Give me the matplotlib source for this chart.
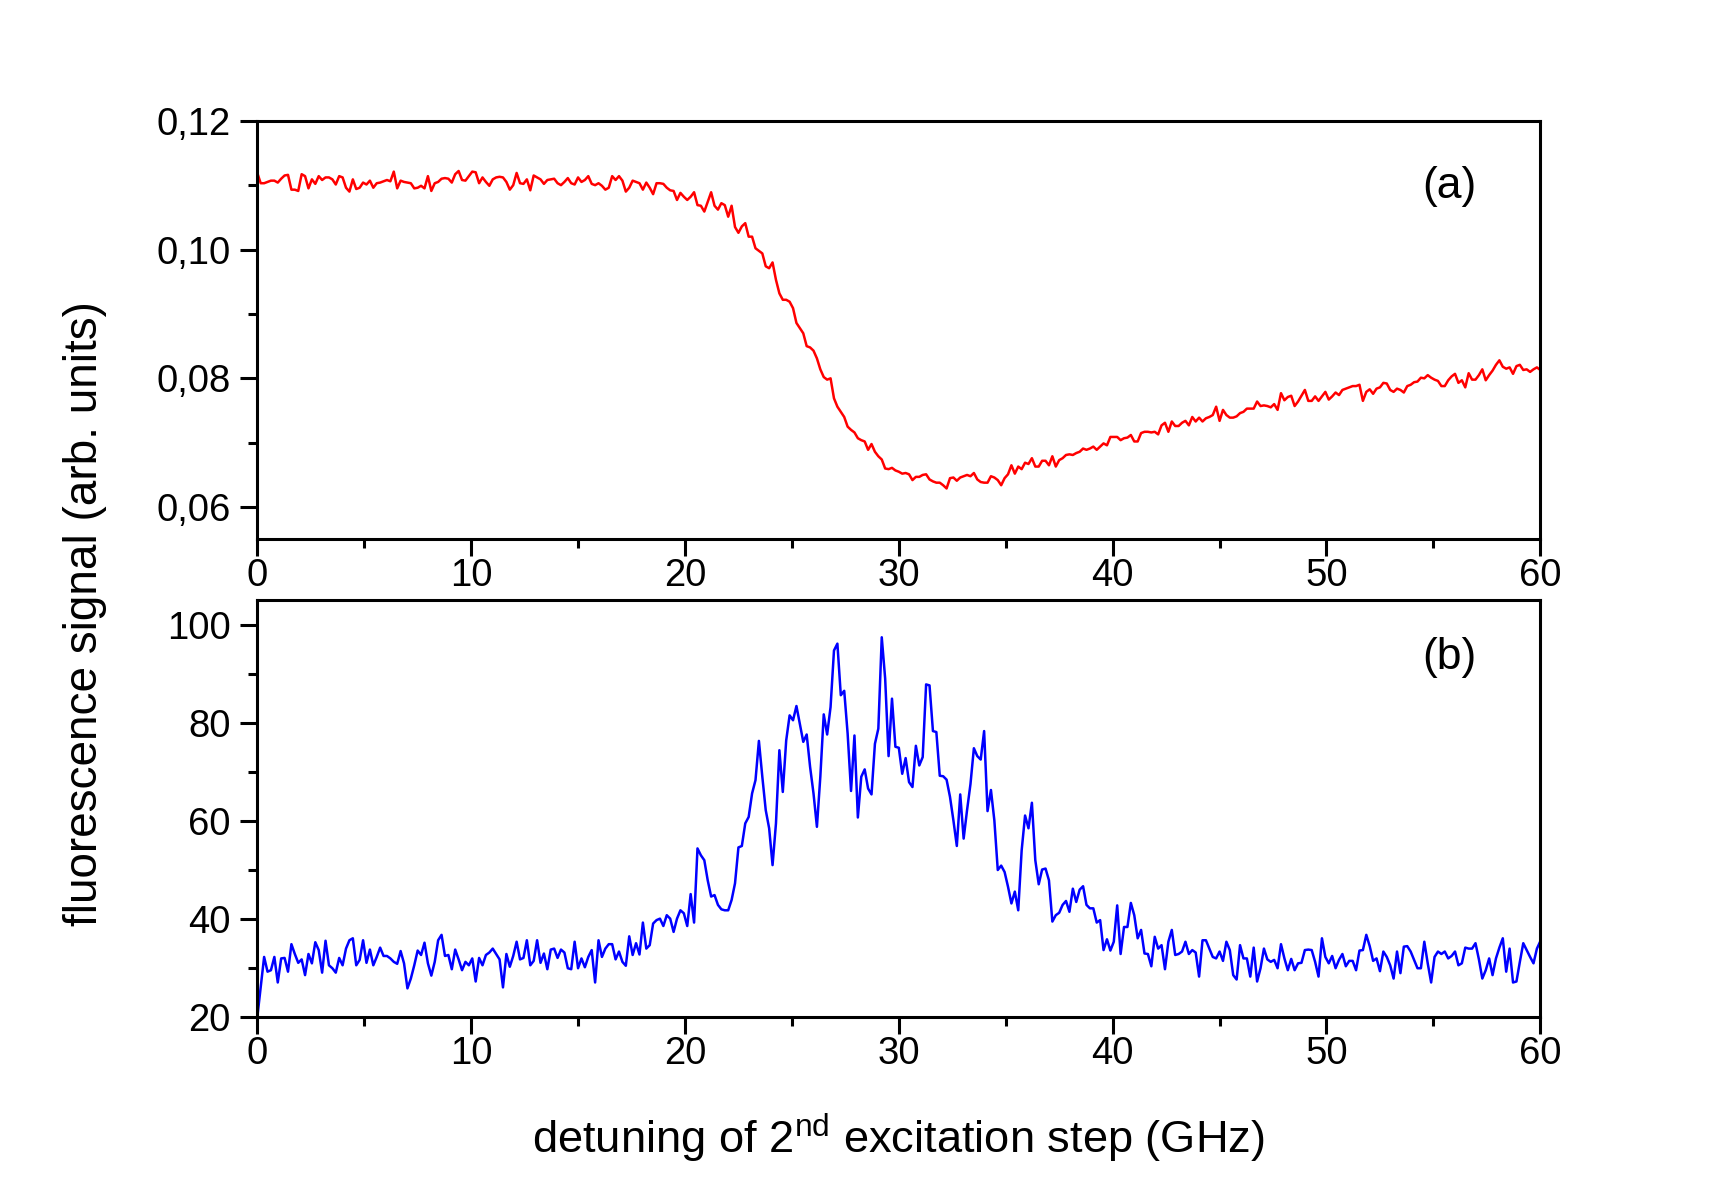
import numpy as np
import matplotlib
matplotlib.use("Agg")
import matplotlib.pyplot as plt

plt.rcParams['font.family'] = ['Liberation Sans', 'DejaVu Sans']
plt.rcParams['mathtext.fontset'] = 'custom'
plt.rcParams['mathtext.rm'] = 'Liberation Sans'
plt.rcParams['mathtext.it'] = 'Liberation Sans:italic'

# ---- data -------------------------------------------------------------
detuning_start = 0.0
detuning_stop = 60.0

# (a) fluorescence signal, arb. units
red_signal = [
    0.1119, 0.1103, 0.1103, 0.1105, 0.1107, 0.1107, 0.1104, 0.1110, 0.1115, 0.1116,
    0.1093, 0.1093, 0.1091, 0.1117, 0.1114, 0.1095, 0.1109, 0.1102, 0.1114, 0.1108,
    0.1112, 0.1112, 0.1109, 0.1101, 0.1114, 0.1112, 0.1096, 0.1090, 0.1109, 0.1094,
    0.1096, 0.1104, 0.1101, 0.1107, 0.1096, 0.1103, 0.1104, 0.1106, 0.1108, 0.1106,
    0.1121, 0.1095, 0.1107, 0.1105, 0.1104, 0.1103, 0.1095, 0.1096, 0.1099, 0.1095,
    0.1114, 0.1091, 0.1103, 0.1105, 0.1110, 0.1111, 0.1110, 0.1104, 0.1117, 0.1122,
    0.1108, 0.1107, 0.1114, 0.1121, 0.1120, 0.1103, 0.1112, 0.1105, 0.1099, 0.1109,
    0.1112, 0.1113, 0.1112, 0.1105, 0.1093, 0.1100, 0.1119, 0.1103, 0.1102, 0.1109,
    0.1092, 0.1115, 0.1112, 0.1109, 0.1102, 0.1108, 0.1109, 0.1110, 0.1103, 0.1100,
    0.1105, 0.1111, 0.1103, 0.1101, 0.1112, 0.1105, 0.1108, 0.1114, 0.1102, 0.1100,
    0.1103, 0.1099, 0.1093, 0.1096, 0.1114, 0.1108, 0.1114, 0.1107, 0.1090, 0.1096,
    0.1107, 0.1105, 0.1103, 0.1093, 0.1104, 0.1096, 0.1086, 0.1103, 0.1103, 0.1102,
    0.1096, 0.1092, 0.1091, 0.1077, 0.1088, 0.1082, 0.1077, 0.1082,
    0.1089, 0.1069, 0.1068, 0.1059, 0.1074, 0.1089, 0.1068, 0.1062, 0.1072, 0.1069,
    0.1051, 0.1068, 0.1035, 0.1026, 0.1036, 0.1041, 0.1020, 0.1020, 0.1002, 0.0998,
    0.0994, 0.0974, 0.0971, 0.0980, 0.0953, 0.0932, 0.0922, 0.0922, 0.0919, 0.0909,
    0.0886, 0.0878, 0.0870, 0.0850, 0.0848, 0.0843, 0.0831, 0.0814, 0.0802, 0.0798,
    0.0800, 0.0769, 0.0756, 0.0748, 0.0740, 0.0725, 0.0720, 0.0716, 0.0707, 0.0704,
    0.0702, 0.0689, 0.0698, 0.0686, 0.0679, 0.0674, 0.0660, 0.0659, 0.0661, 0.0657,
    0.0655, 0.0652, 0.0653, 0.0651, 0.0642, 0.0647, 0.0647, 0.0650, 0.0651, 0.0643,
    0.0640, 0.0638, 0.0638, 0.0634, 0.0629, 0.0645, 0.0646, 0.0641, 0.0646, 0.0648,
    0.0650, 0.0648, 0.0653, 0.0643, 0.0639, 0.0638, 0.0638, 0.0648, 0.0646, 0.0642,
    0.0634, 0.0645, 0.0651, 0.0665, 0.0652, 0.0663, 0.0659, 0.0669, 0.0667, 0.0676,
    0.0663, 0.0663, 0.0672, 0.0672, 0.0665, 0.0679, 0.0663, 0.0673, 0.0676, 0.0681,
    0.0682, 0.0681, 0.0684, 0.0686, 0.0691, 0.0689, 0.0691, 0.0694, 0.0689, 0.0694,
    0.0699, 0.0696, 0.0709, 0.0709, 0.0709, 0.0704, 0.0707, 0.0708, 0.0712,
    0.0702, 0.0702, 0.0715, 0.0717, 0.0717, 0.0716, 0.0717, 0.0713, 0.0727, 0.0731,
    0.0717, 0.0733, 0.0726, 0.0726, 0.0731, 0.0734, 0.0727, 0.0740, 0.0733, 0.0739,
    0.0733, 0.0738, 0.0740, 0.0743, 0.0756, 0.0734, 0.0751, 0.0743, 0.0739, 0.0739,
    0.0741, 0.0746, 0.0748, 0.0753, 0.0753, 0.0753, 0.0764, 0.0757, 0.0758, 0.0757,
    0.0755, 0.0760, 0.0751, 0.0777, 0.0766, 0.0771, 0.0773, 0.0757, 0.0764, 0.0773,
    0.0782, 0.0765, 0.0765, 0.0772, 0.0765, 0.0772, 0.0779, 0.0767, 0.0772, 0.0778,
    0.0774, 0.0782, 0.0784, 0.0786, 0.0788, 0.0788, 0.0790, 0.0765, 0.0779, 0.0783,
    0.0776, 0.0784, 0.0786, 0.0793, 0.0792, 0.0782, 0.0779, 0.0784, 0.0782, 0.0778,
    0.0788, 0.0790, 0.0794, 0.0795, 0.0801, 0.0800, 0.0805, 0.0801, 0.0798, 0.0796,
    0.0788, 0.0788, 0.0797, 0.0803, 0.0807, 0.0793, 0.0797, 0.0786, 0.0808, 0.0798,
    0.0798, 0.0805, 0.0814, 0.0797, 0.0805, 0.0812, 0.0821, 0.0828, 0.0818, 0.0815,
    0.0817, 0.0807, 0.0819, 0.0821, 0.0813, 0.0814, 0.0810, 0.0814, 0.0817, 0.0813,
]

# (b) fluorescence signal
blue_signal = [
    20.0, 26.2, 32.3, 29.3, 29.6, 32.3, 27.1, 32.0, 32.1, 29.3,
    34.9, 32.9, 31.1, 31.8, 28.6, 32.9, 31.0, 35.3, 33.7, 29.1,
    35.6, 30.6, 30.0, 29.1, 32.1, 30.6, 34.0, 35.7, 36.1, 30.6,
    31.7, 35.7, 31.1, 33.8, 30.6, 32.3, 34.2, 32.5, 32.5, 32.0,
    31.3, 30.9, 33.5, 31.0, 25.9, 27.9, 30.6, 33.6, 32.7, 35.2,
    31.0, 28.5, 31.3, 35.7, 36.8, 32.5, 32.7, 29.8, 33.8, 31.8,
    29.6, 31.3, 30.6, 32.0, 27.3, 32.1, 30.6, 32.7, 33.2, 34.0,
    32.9, 31.8, 26.1, 32.9, 30.3, 32.5, 35.4, 31.8, 32.1, 35.7,
    30.6, 31.5, 35.7, 31.1, 33.0, 29.8, 33.8, 34.0, 32.1, 33.8,
    33.2, 30.0, 29.8, 35.4, 30.0, 32.0, 30.2, 32.3, 33.7, 27.1,
    35.7, 32.3, 34.0, 34.9, 34.9, 31.8, 33.4, 31.3, 30.5, 36.5,
    32.7, 35.1, 32.8, 39.3, 34.0, 34.7, 39.1, 39.8, 40.1, 38.6,
    40.8, 40.1, 37.4, 40.1,
    41.8, 41.2, 38.6, 45.1, 39.3, 54.4, 53.0, 52.0, 47.9, 44.6,
    44.9, 42.9, 42.0, 41.8, 41.8, 43.9, 47.3, 54.6, 54.9, 59.5,
    60.8, 65.6, 68.3, 76.3, 69.0, 62.2, 58.5, 51.0, 59.5, 74.4,
    65.9, 76.4, 81.5, 80.5, 83.4, 79.8, 76.1, 77.6, 71.0, 65.6,
    58.8, 69.0, 81.7, 77.6, 83.2, 94.7, 96.1, 85.6, 86.5, 77.8,
    66.1, 77.4, 60.7, 69.0, 70.5, 66.6, 65.4, 75.7, 78.8, 97.4,
    89.0, 73.2, 84.9, 75.1, 74.9, 69.6, 72.8, 67.9, 66.9, 75.3,
    71.3, 73.0, 87.8, 87.6, 78.3, 78.1, 69.2, 69.1, 68.4, 64.9,
    60.1, 54.9, 65.4, 56.4, 62.2, 67.5, 74.8, 73.2, 72.5, 78.3,
    62.0, 66.3, 60.1, 50.0, 50.9, 49.6, 46.6, 43.2, 45.6, 41.8,
    54.0, 61.1, 58.5, 63.7, 52.0, 47.1, 50.1, 50.3, 47.9, 39.5,
    40.8, 41.3, 42.9, 43.7, 41.5, 46.2, 43.5, 46.0, 46.7, 42.9,
    42.2, 42.2, 39.3, 39.8, 33.7, 35.9, 33.6, 35.4, 42.8, 32.9,
    38.4, 38.4, 43.3,
    40.8, 36.1, 37.8, 33.0, 32.9, 30.4, 36.4, 34.0, 34.7, 29.8,
    35.4, 37.8, 32.7, 32.9, 33.4, 35.4, 32.9, 33.7, 33.2, 28.3,
    35.7, 35.7, 34.0, 32.3, 32.0, 33.4, 31.5, 35.4, 33.7, 28.6,
    27.7, 34.7, 32.0, 32.0, 28.3, 34.2, 27.3, 30.0, 34.0, 31.8,
    31.3, 31.7, 30.0, 34.9, 32.0, 29.6, 31.9, 29.6, 31.0, 31.1,
    33.7, 33.8, 33.7, 31.3, 28.3, 36.1, 32.3, 31.0, 32.5, 30.0,
    31.7, 32.9, 30.4, 31.5, 31.5, 29.6, 33.6, 33.7, 36.8, 34.5,
    31.5, 32.0, 29.4, 33.4, 32.3, 30.6, 27.9, 33.4, 29.0, 34.4,
    34.5, 33.4, 31.7, 30.0, 30.0, 35.4, 31.0, 27.1, 32.3, 33.4,
    32.9, 33.4, 32.0, 32.5, 33.4, 30.6, 31.0, 34.2, 34.0, 34.0,
    35.1, 31.8, 27.9, 29.6, 32.0, 28.6, 32.0, 34.2, 36.1, 29.3,
    34.0, 27.1, 27.3, 31.3, 35.1, 33.7, 32.3, 31.0, 34.0, 35.5,
]

x_ticks = [0, 10, 20, 30, 40, 50, 60]
x_tick_labels = ['0', '10', '20', '30', '40', '50', '60']
x_minor = [5, 15, 25, 35, 45, 55]
top_y_ticks = [0.06, 0.08, 0.10, 0.12]
top_y_tick_labels = ['0,06', '0,08', '0,10', '0,12']
top_y_minor = [0.07, 0.09, 0.11]
bot_y_ticks = [20, 40, 60, 80, 100]
bot_y_tick_labels = ['20', '40', '60', '80', '100']
bot_y_minor = [30, 50, 70, 90]

panel_labels = ['(a)', '(b)']
y_label = 'fluorescence signal (arb. units)'
x_label = r'detuning of 2$^{\mathrm{nd}}$ excitation step (GHz)'

# ---- figure ----------------------------------------------------------
x_red = np.linspace(detuning_start, detuning_stop, len(red_signal))
x_blue = np.linspace(detuning_start, detuning_stop, len(blue_signal))

fig = plt.figure(figsize=(17.13, 11.98), dpi=100)
ax1 = fig.add_axes([0.1502, 0.5498, 0.7490, 0.3494])
ax2 = fig.add_axes([0.1502, 0.1508, 0.7490, 0.3484])

ax1.plot(x_red, red_signal, color='#ff0000', lw=1.8)
ax2.plot(x_blue, blue_signal, color='#0000ff', lw=1.8)

ax1.set_ylim(0.055, 0.12)
ax2.set_ylim(20, 105)
ax1.set_yticks(top_y_ticks)
ax1.set_yticklabels(top_y_tick_labels)
ax1.set_yticks(top_y_minor, minor=True)
ax2.set_yticks(bot_y_ticks)
ax2.set_yticklabels(bot_y_tick_labels)
ax2.set_yticks(bot_y_minor, minor=True)

for ax, lab, ly in ((ax1, panel_labels[0], 0.844), (ax2, panel_labels[1], 0.861)):
    ax.set_xlim(0, 60)
    ax.set_xticks(x_ticks)
    ax.set_xticklabels(x_tick_labels)
    ax.set_xticks(x_minor, minor=True)
    for s in ax.spines.values():
        s.set_linewidth(2.2)
    ax.tick_params(which='major', direction='out', length=12, width=2.2,
                   labelsize=27.5, top=False, right=False)
    ax.tick_params(which='minor', direction='out', length=6.5, width=2.2,
                   top=False, right=False)
    ax.tick_params(axis='y', which='major', pad=7)
    ax.tick_params(axis='x', which='major', pad=1.5)
    ax.text(0.929, ly, lab, transform=ax.transAxes, fontsize=32,
            ha='center', va='center')

fig.text(0.0496, 0.488, y_label, rotation=90, fontsize=33,
         ha='center', va='center')
fig.text(0.5246, 0.050, x_label, fontsize=32.6, ha='center', va='center')

fig.savefig('out.png', dpi=100)
